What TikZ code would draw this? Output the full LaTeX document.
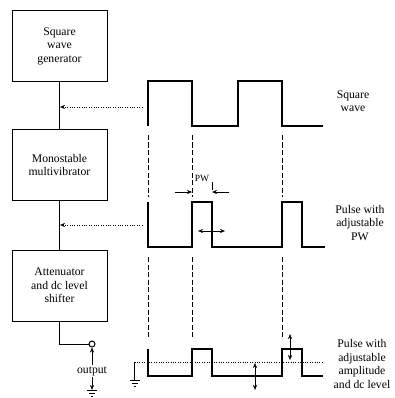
\documentclass[tikz,border=0pt]{standalone}
\usepackage{fontspec}
\setmainfont{Liberation Serif}
\usetikzlibrary{arrows.meta,positioning}

\begin{document}
\begin{tikzpicture}[x=1pt,y=-1pt,>={Stealth[length=5pt,width=4pt]},font=\fontsize{11.7}{13.5}\selectfont]
\tikzset{blk/.style={draw,line width=1pt,minimum width=95pt,minimum height=71pt,align=center,inner sep=2pt},
  wave/.style={line width=1.6pt,line join=miter},
  guide/.style={dashed,dash pattern=on 5pt off 2.5pt},
  lbl/.style={align=center,inner sep=1pt}}
\useasboundingbox (0,0) rectangle (394,398);
% blocks
\node[blk] (sqgen) at (59.5,46) {Square\\wave\\generator};
\node[blk,minimum height=70pt] (mono) at (59.5,165) {Monostable\\multivibrator};
\node[blk] (atten) at (59.5,285.5) {Attenuator\\and dc level\\shifter};
\draw[line width=1pt] (sqgen) -- (mono);
\draw[line width=1pt] (mono) -- (atten);
% output terminal
\node[circle,draw,line width=1pt,inner sep=0pt,minimum size=6pt] (outc) at (92,344) {};
\draw[line width=1pt] (atten.south) |- (outc.west);
\node[inner sep=1pt] (outl) at (92,371) {output};
\draw[->] (outl.north) -- (outc.south);
\coordinate (gnda) at (92,390);
\draw[->] (outl.south) -- (gnda);
\draw (87,390) -- (97,390) (89,393) -- (95,393) (91,396) -- (93,396);
% taps from the waveforms
\coordinate (tapa) at (142,107);
\coordinate (hita) at (60,107);
\draw[dotted,->] (tapa) -- (hita);
\coordinate (tapb) at (142,225);
\coordinate (hitb) at (60,225);
\draw[dotted,->] (tapb) -- (hitb);
% square wave
\draw[wave] (148,126) -- (148,81) -- (192,81) -- (192,126) -- (238,126) -- (238,81)
  -- (282,81) -- (282,126) -- (323,126);
% pulse
\draw[wave] (148,202) -- (148,247) -- (192,247) -- (192,202) -- (212,202) -- (212,247)
  -- (282,247) -- (282,202) -- (302,202) -- (302,247) -- (325,247);
% shifted pulse
\draw[wave] (148,349) -- (148,376) -- (192,376) -- (192,349) -- (212,349) -- (212,376)
  -- (282,376) -- (282,349) -- (302,349) -- (302,376) -- (323,376);
% guide lines
\foreach \gx in {148,192,282} {
  \draw[guide] (\gx,135) -- (\gx,197);
  \draw[guide] (\gx,257) -- (\gx,338);
}
% PW marks
\draw[->] (175,192) -- (192,192);
\draw[->] (229,192) -- (212,192);
\draw (212,182) -- (212,190);
\node[inner sep=0pt,font=\fontsize{9.5}{11}\selectfont] (pw) at (202,178) {PW};
\draw[<->] (198,231) -- (225,231);
% dc level and ground
\coordinate (gndb) at (134.5,380);
\draw[dotted] (134.5,362) -- (323,362);
\draw (134.5,362) -- (gndb);
\draw (129.5,380) -- (139.5,380) (131.5,383) -- (137.5,383) (133.5,386) -- (135.5,386);
\draw[<->] (255,363) -- (255,390);
\draw[<->] (290,334) -- (290,360);
% labels
\node[lbl] (lsq) at (353,101) {Square\\wave};
\node[lbl] (lpw) at (360,223) {Pulse with\\adjustable\\PW};
\node[lbl] (lamp) at (362,364) {Pulse with\\adjustable\\amplitude\\and dc level};
\end{tikzpicture}
\end{document}
